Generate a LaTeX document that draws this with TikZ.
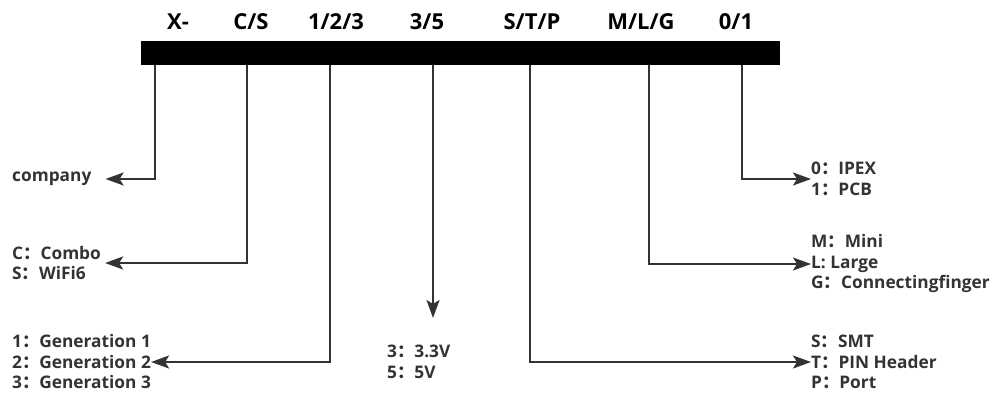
\documentclass[tikz,border=0pt]{standalone}
\usepackage{fontspec}
\setmainfont{Open Sans}
\newfontfamily\cjkfont{Noto Sans CJK SC}
\newcommand\fcolon{{\cjkfont\bfseries ：}}
\usetikzlibrary{arrows.meta}
\definecolor{ink}{HTML}{333333}
\begin{document}
\begin{tikzpicture}[x=1pt,y=-1pt,
  conn/.style={draw=ink,line width=2pt,-{Stealth[length=18pt,width=13pt,inset=4pt]}},
  hdr/.style={font=\fontsize{22}{28}\selectfont\bfseries, text=black, anchor=base, inner sep=0pt},
  lbl/.style={font=\fontsize{17.3}{20.5}\selectfont\bfseries, text=ink, align=left, inner sep=0pt},
  barbox/.style={fill=black, draw=none, inner sep=0pt, minimum width=639pt, minimum height=24pt}
]
\useasboundingbox (0,0) rectangle (1000,396);
\node[barbox] (bar) at (460.5,53) {};
% header labels
\node[hdr] (hX) at (178,30) {X-};
\node[hdr] (hCS) at (251,30) {C/S};
\node[hdr] (hG) at (336,30) {1/2/3};
\node[hdr] (hV) at (427,30) {3/5};
\node[hdr] (hS) at (532,30) {S/T/P};
\node[hdr] (hM) at (641,30) {M/L/G};
\node[hdr] (hA) at (736,30) {0/1};
% taps on the bar
\coordinate (p1) at (155,65);
\coordinate (p2) at (247,65);
\coordinate (p3) at (330,65);
\coordinate (p4) at (433,65);
\coordinate (p5) at (530,65);
\coordinate (p6) at (649,65);
\coordinate (p7) at (742,65);
\coordinate (t4) at (433,318);
% labels
\node[lbl, anchor=west] (company) at (12,179) {company};
\node[lbl, anchor=west] (cs) at (12,263) {C\fcolon Combo\\S\fcolon WiFi6};
\node[lbl, anchor=west] (gen) at (12,362) {1\fcolon Generation 1\\2\fcolon Generation 2\\3\fcolon Generation 3};
\node[lbl, anchor=north west] (volt) at (387,345) {3\fcolon 3.3V\\5\fcolon 5V};
\node[lbl, anchor=west] (ant) at (811,179) {0\fcolon IPEX\\1\fcolon PCB};
\node[lbl, anchor=west] (size) at (811,264) {M\fcolon Mini\\L: Large\\G\fcolon Connectingfinger};
\node[lbl, anchor=west] (mount) at (811,362) {S\fcolon SMT\\T\fcolon PIN Header\\P\fcolon Port};
% connectors
\draw[conn, shorten >=14pt] (p1) |- (company);
\draw[conn, shorten >=4pt] (p2) |- (cs);
\draw[conn, shorten >=0pt] (p3) |- (gen);
\draw[conn] (p4) -- (t4);
\draw[conn] (p5) |- (mount);
\draw[conn] (p6) |- (size);
\draw[conn] (p7) |- (ant);
\end{tikzpicture}
\end{document}
